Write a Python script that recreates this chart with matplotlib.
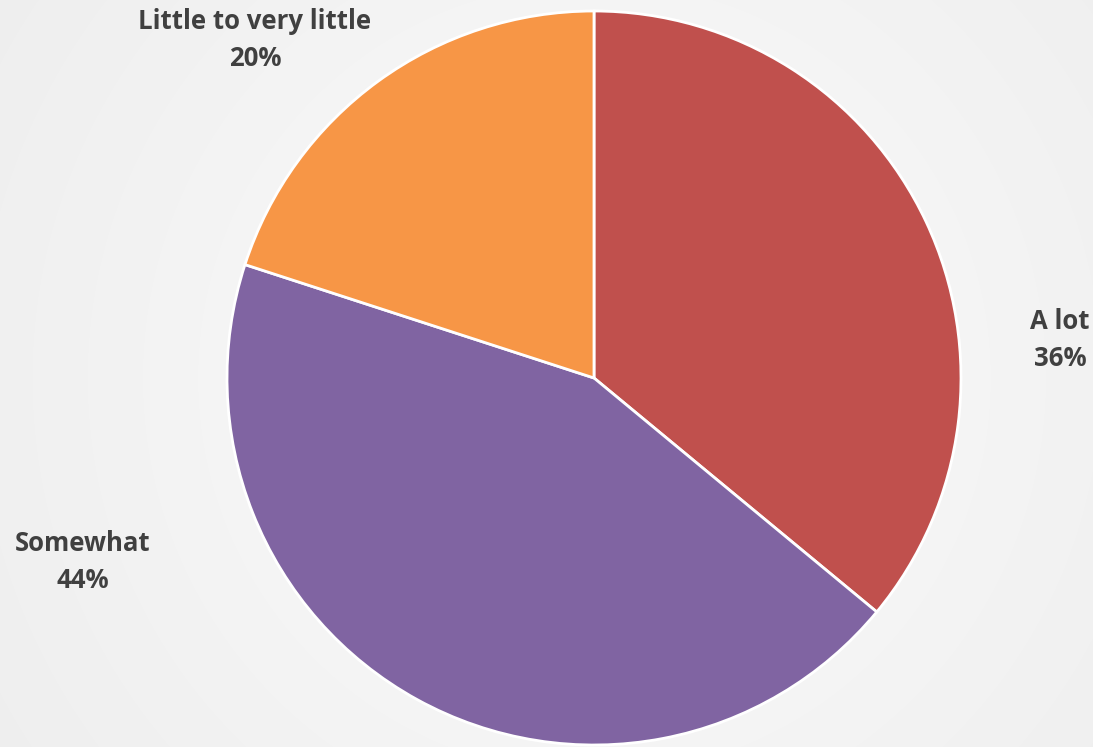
import matplotlib
matplotlib.use("Agg")
import matplotlib.pyplot as plt
import numpy as np

categories = ["A lot", "Somewhat", "Little to very little"]
values = [36, 44, 20]
colors = ["#C0504D", "#8064A2", "#F79646"]
label_pos = [(1060, 340), (83, 562), (255, 40)]

W, H = 1093, 747
fig = plt.figure(figsize=(W / 100, H / 100), dpi=100)

# background radial gradient
bg = fig.add_axes([0, 0, 1, 1])
yy, xx = np.mgrid[0:H, 0:W]
r = np.hypot(xx - 594, yy - 378) / np.hypot(594, 378)
g = 0.985 - 0.05 * np.clip(r, 0, 1.3)
bg.imshow(np.dstack([g, g, g]), extent=[0, W, 0, H], origin="upper", aspect="auto")
bg.axis("off")

ax = fig.add_axes([0, 0, 1, 1])
ax.pie(values, colors=colors, startangle=90, counterclock=False,
       center=(594, H - 378), radius=367,
       wedgeprops=dict(edgecolor="white", linewidth=2.0))
ax.set_xlim(0, W)
ax.set_ylim(0, H)
ax.set_aspect("equal")
ax.axis("off")
ax.patch.set_alpha(0)

for cat, v, (x, y) in zip(categories, values, label_pos):
    ax.text(x, H - y, f"{cat}\n{v}%", ha="center", va="center",
            fontsize=18.5, fontweight="bold", color="#404040",
            family="Open Sans", linespacing=1.45)

fig.savefig("out.png", dpi=100)
